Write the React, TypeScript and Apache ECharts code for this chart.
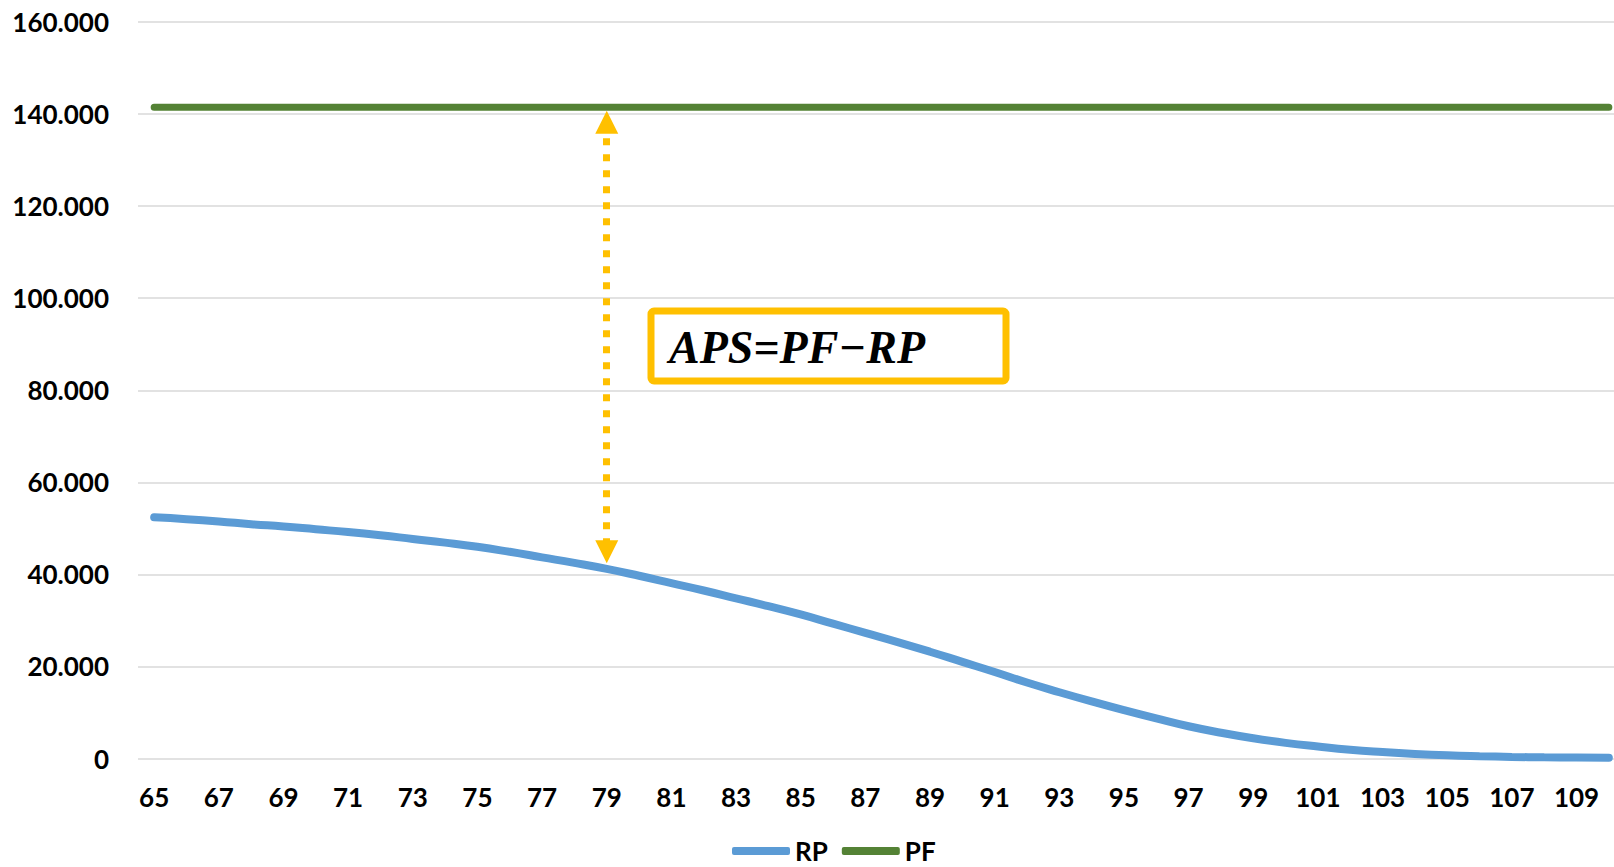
import React, { useEffect, useRef } from "react";
import * as echarts from "echarts";

const AGES: string[] = [
  "65","66","67","68","69","70","71","72","73","74","75","76","77","78","79","80",
  "81","82","83","84","85","86","87","88","89","90","91","92","93","94","95","96",
  "97","98","99","100","101","102","103","104","105","106","107","108","109","110",
];

const RP: number[] = [
  52400, 52000, 51500, 50900, 50400, 49800, 49200, 48500, 47700, 46900, 46000, 44900,
  43700, 42500, 41200, 39700, 38100, 36500, 34800, 33100, 31300, 29300, 27300, 25300,
  23200, 21000, 18800, 16500, 14400, 12400, 10500, 8700, 7000, 5600, 4400, 3400,
  2600, 1900, 1400, 1000, 700, 500, 350, 250, 200, 150,
];

const PF_VALUE = 141500;
const PF: number[] = AGES.map(() => PF_VALUE);

const ARROW_AGE = "79";
const ARROW_TOP = 138200;
const ARROW_BOTTOM = 44900;

const Y_MAX = 160000;
const Y_STEP = 20000;

const FORMULA = "APS=PF\u2212RP";

const FONT = "Lato, 'Open Sans', sans-serif";

export default function App() {
  const ref = useRef<HTMLDivElement>(null);

  useEffect(() => {
    if (!ref.current) return;
    const chart = echarts.init(ref.current, undefined, { renderer: "svg" });
    chart.setOption({
      animation: false,
      backgroundColor: "#ffffff",
      grid: {
        left: 138,
        top: 22,
        width: 1487,
        bottom: 108.5,
        containLabel: false,
        outerBoundsMode: "none",
      },
      xAxis: {
        type: "category",
        data: AGES,
        boundaryGap: true,
        axisLine: { show: false },
        axisTick: { show: false },
        axisLabel: {
          interval: 1,
          margin: 25,
          color: "#000",
          fontFamily: FONT,
          fontWeight: "bold",
          fontSize: 26,
        },
      },
      yAxis: {
        type: "value",
        min: 0,
        max: Y_MAX,
        interval: Y_STEP,
        axisLine: { show: false },
        axisTick: { show: false },
        splitLine: { lineStyle: { color: "#d9d9d9", width: 1.5 } },
        axisLabel: {
          margin: 29,
          color: "#000",
          fontFamily: FONT,
          fontWeight: "bold",
          fontSize: 26,
          formatter: (v: number) => (v === 0 ? "0" : `${v / 1000}.000`),
        },
      },
      legend: {
        left: 732,
        top: 838,
        itemWidth: 58,
        itemHeight: 8,
        itemGap: 14,
        padding: 0,
        icon: "roundRect",
        textStyle: {
          color: "#000",
          fontFamily: FONT,
          fontWeight: "bold",
          fontSize: 26,
          lineHeight: 26,
        },
        data: ["RP", "PF"],
      },
      series: [
        {
          name: "RP",
          type: "line",
          data: RP,
          smooth: true,
          symbol: "none",
          lineStyle: { color: "#5B9BD5", width: 8, cap: "round" },
          itemStyle: { color: "#5B9BD5" },
        },
        {
          name: "PF",
          type: "line",
          data: PF,
          symbol: "none",
          lineStyle: { color: "#548235", width: 7, cap: "round" },
          itemStyle: { color: "#548235" },
          markLine: {
            silent: true,
            symbol: ["triangle", "triangle"],
            symbolSize: [23, 23],
            label: { show: false },
            lineStyle: { color: "#FFC000", width: 7, type: [7, 9], cap: "butt" },
            itemStyle: { color: "#FFC000" },
            data: [[{ coord: [ARROW_AGE, ARROW_TOP] }, { coord: [ARROW_AGE, ARROW_BOTTOM] }]],
          },
        },
      ],
      graphic: [
        {
          type: "rect",
          shape: { x: 651, y: 311, width: 355, height: 70, r: 3 },
          style: { fill: "#ffffff", stroke: "#FFC000", lineWidth: 7 },
          z: 10,
        },
        {
          type: "text",
          x: 669,
          y: 347,
          style: {
            text: FORMULA,
            fill: "#000",
            fontFamily: "'Liberation Serif', 'DejaVu Serif', serif",
            fontStyle: "italic",
            fontWeight: "bold",
            fontSize: 46,
            verticalAlign: "middle",
          },
          z: 11,
        },
      ],
    });
    return () => chart.dispose();
  }, []);

  return (
    <div
      ref={ref}
      style={{ position: "fixed", left: 0, top: 0, width: "1614px", height: "867px" }}
    />
  );
}
